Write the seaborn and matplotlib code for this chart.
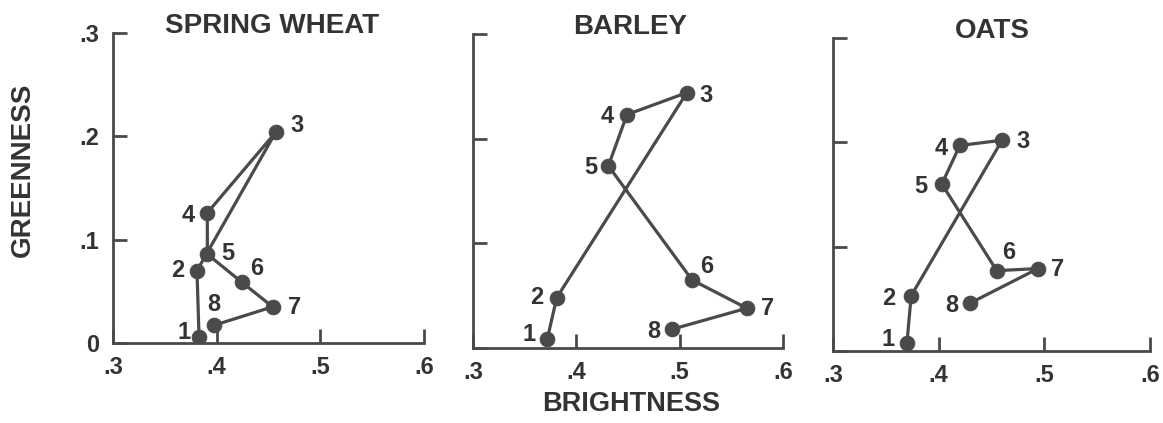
import matplotlib
matplotlib.use("Agg")
import matplotlib.pyplot as plt
import seaborn as sns
import pandas as pd

# growth stages 1..8, brightness (x) vs greenness (y)
stages = ['1', '2', '3', '4', '5', '6', '7', '8']

wheat_bright = [0.383, 0.381, 0.457, 0.391, 0.391, 0.424, 0.454, 0.397]
wheat_green = [0.006, 0.070, 0.204, 0.126, 0.086, 0.059, 0.035, 0.017]

barley_bright = [0.372, 0.381, 0.507, 0.449, 0.431, 0.512, 0.565, 0.493]
barley_green = [0.009, 0.048, 0.244, 0.223, 0.174, 0.065, 0.038, 0.018]

oats_bright = [0.370, 0.374, 0.460, 0.420, 0.403, 0.455, 0.494, 0.430]
oats_green = [0.008, 0.053, 0.202, 0.197, 0.160, 0.077, 0.079, 0.046]

crops = ['SPRING WHEAT', 'BARLEY', 'OATS']
x_ticks = [0.3, 0.4, 0.5, 0.6]
x_ticklabels = ['.3', '.4', '.5', '.6']
y_ticks = [0.0, 0.1, 0.2, 0.3]
y_ticklabels = ['0', '.1', '.2', '.3']

sns.set_style('white')
plt.rcParams['font.family'] = ['Liberation Sans', 'DejaVu Sans']
plt.rcParams['font.weight'] = 'bold'

ink = '#4a4a4a'
txt = '#333333'
W, H = 1163, 423

# axes boxes in pixels: left, right, top, bottom
boxes = [(113, 424, 33, 343), (473, 783, 34, 348), (833, 1150, 38, 351)]

# label offsets in pixels (dx, dy) for each stage number
offsets = [
    [(-15, 4), (-19, 0), (21, 7), (-19, -3), (20, 1), (15, 14), (22, -1), (0, 21)],
    [(-18, 4), (-20, 0), (19, -3), (-20, -2), (-18, -2), (15, 13), (21, 0), (-19, -2)],
    [(-19, 3), (-22, -3), (21, -1), (-19, -3), (-21, -2), (12, 18), (20, -1), (-19, -2)],
]
title_pos = [(272, 26), (630, 27), (992, 31)]

data = [(wheat_bright, wheat_green), (barley_bright, barley_green), (oats_bright, oats_green)]

fig = plt.figure(figsize=(W / 100, H / 100), dpi=100)

for i, (bx, gy) in enumerate(data):
    l, r, t, b = boxes[i]
    ax = fig.add_axes([l / W, (H - b) / H, (r - l) / W, (b - t) / H])
    df = pd.DataFrame({'brightness': bx, 'greenness': gy, 'stage': stages})
    sns.lineplot(data=df, x='brightness', y='greenness', sort=False, estimator=None,
                 ax=ax, color=ink, linewidth=2.3, marker='o', markersize=10.5,
                 markeredgecolor=ink, markerfacecolor=ink)
    for j, row in df.iterrows():
        dx, dy = offsets[i][j]
        ax.annotate(row['stage'], (row['brightness'], row['greenness']),
                    xytext=(dx, dy), textcoords='offset pixels',
                    ha='center', va='center', fontsize=17, fontweight='bold',
                    color=txt, annotation_clip=False)
    ax.set_xlim(0.3, 0.6)
    ax.set_ylim(0.0, 0.3)
    ax.set_xticks(x_ticks)
    ax.set_yticks(y_ticks)
    ax.set_xticklabels(x_ticklabels)
    if i == 0:
        ax.set_yticklabels(y_ticklabels)
    else:
        ax.set_yticklabels([])
    ax.set_xlabel('')
    ax.set_ylabel('')
    for s in ['top', 'right']:
        ax.spines[s].set_visible(False)
    for s in ['left', 'bottom']:
        ax.spines[s].set_color(ink)
        ax.spines[s].set_linewidth(2.0)
    ax.tick_params(axis='both', direction='in', length=10, width=2.0,
                   color=ink, labelsize=17, labelcolor=txt)
    ax.tick_params(axis='x', pad=9, bottom=True)
    ax.tick_params(axis='y', pad=10, left=True)
    for lab in ax.get_xticklabels() + ax.get_yticklabels():
        lab.set_fontweight('bold')
    fig.text(title_pos[i][0] / W, 1 - title_pos[i][1] / H, crops[i],
             ha='center', va='center', fontsize=20, fontweight='bold', color=txt)

fig.text(23 / W, 1 - 170 / H, 'GREENNESS', rotation=90, ha='center', va='center',
         fontsize=20, fontweight='bold', color=txt)
fig.text(631 / W, 1 - 404 / H, 'BRIGHTNESS', ha='center', va='center',
         fontsize=19.5, fontweight='bold', color=txt)

fig.savefig('out.png', dpi=100, facecolor='white')
